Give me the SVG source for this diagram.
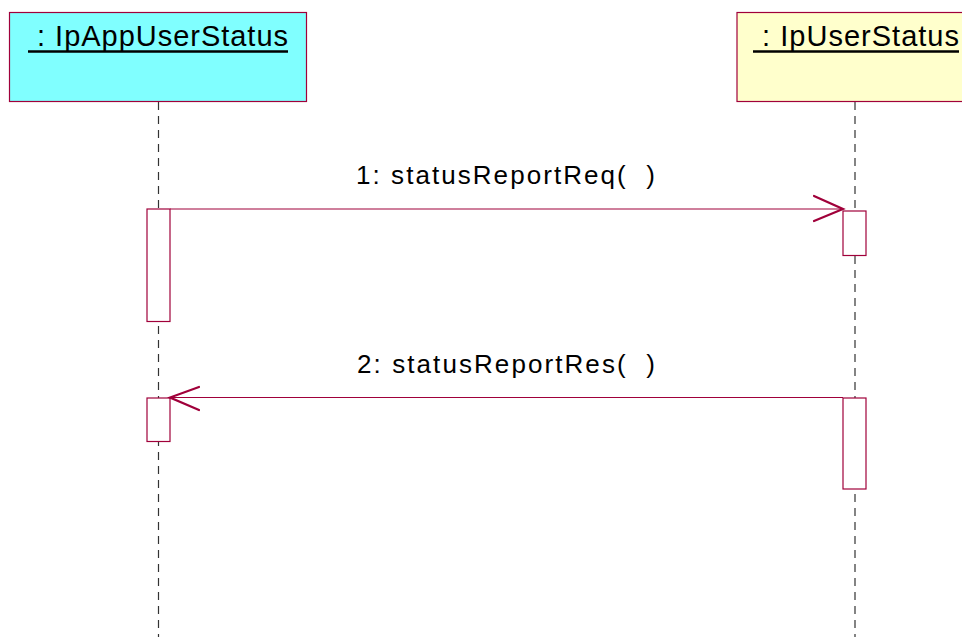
<svg xmlns="http://www.w3.org/2000/svg" width="962" height="637" viewBox="0 0 962 637">
<style>
.obj{stroke:#A0003A;stroke-width:1.2}
.hdr{font-family:"Liberation Sans",Arial,sans-serif;font-size:29px;fill:#000;white-space:pre}
.ul{stroke:#000;stroke-width:2.5}
.life{stroke:#333;stroke-width:1.2;stroke-dasharray:8 6;fill:none}
.act{fill:#fff;stroke:#A0003A;stroke-width:1.2}
.msg{stroke:#A0003A;stroke-width:1.2;fill:none}
.head{stroke:#A0003A;stroke-width:2.2;fill:none;stroke-linecap:round}
.lbl{font-family:"Liberation Sans",Arial,sans-serif;font-size:26px;fill:#000;white-space:pre}
</style>
<rect width="962" height="637" fill="#fff"/>
<g id="lifelines">
<line class="life" x1="158.5" y1="102" x2="158.5" y2="637"/>
<line class="life" x1="855" y1="102" x2="855" y2="637"/>
</g>
<g id="obj-ipappuserstatus">
<rect class="obj" x="9.5" y="12.5" width="297" height="89" fill="#80FFFF"/>
<text class="hdr" x="28" y="46" textLength="260" lengthAdjust="spacing" xml:space="preserve"> : IpAppUserStatus</text>
<line class="ul" x1="28" y1="51.5" x2="288" y2="51.5"/>
</g>
<g id="obj-ipuserstatus">
<rect class="obj" x="737" y="12.5" width="240" height="89" fill="#FFFFCC"/>
<text class="hdr" x="753" y="46" textLength="206" lengthAdjust="spacing" xml:space="preserve"> : IpUserStatus</text>
<line class="ul" x1="753" y1="51.5" x2="959" y2="51.5"/>
</g>
<g id="activations">
<rect class="act" x="147" y="209" width="23" height="112.5"/>
<rect class="act" x="843" y="211" width="23" height="44.5"/>
<rect class="act" x="147" y="398" width="23" height="43.5"/>
<rect class="act" x="843" y="398" width="23" height="91"/>
</g>
<g id="connectors">
<g id="msg1">
<line class="msg" x1="170" y1="209" x2="843" y2="209"/>
<polyline class="head" points="814,196 843,209 814,221"/>
<text class="lbl" x="356" y="184" textLength="299" lengthAdjust="spacing" xml:space="preserve">1: statusReportReq(  )</text>
</g>
<g id="msg2">
<line class="msg" x1="843" y1="397.5" x2="170" y2="397.5"/>
<polyline class="head" points="199,387 170,397.5 199,410"/>
<text class="lbl" x="357" y="373" textLength="298" lengthAdjust="spacing" xml:space="preserve">2: statusReportRes(  )</text>
</g>
</g>
</svg>
